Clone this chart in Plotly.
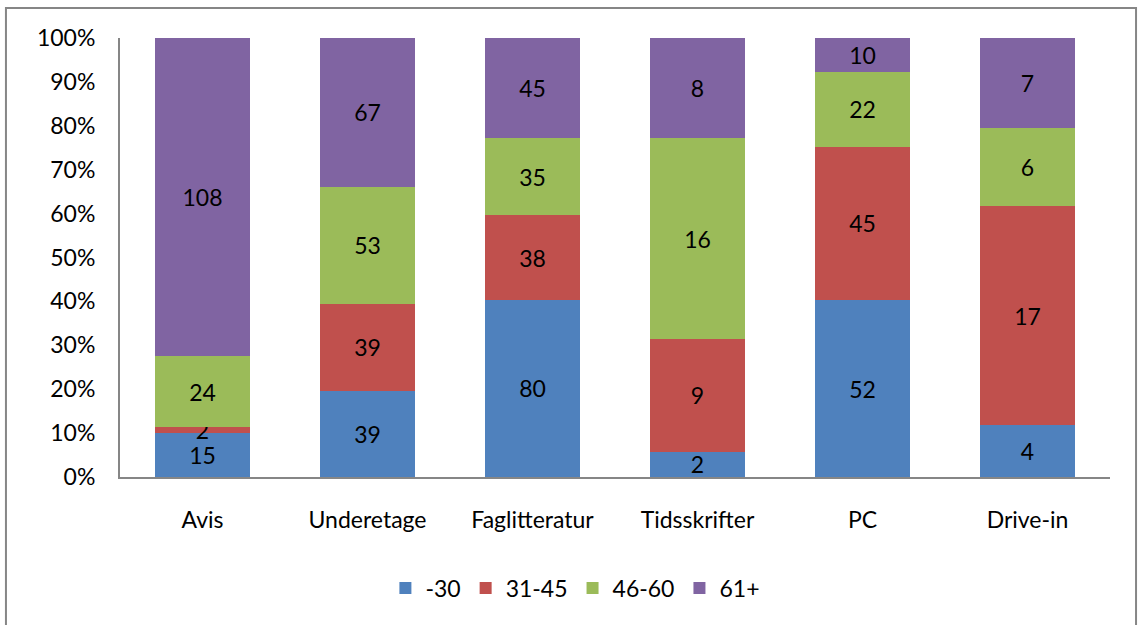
import plotly.graph_objects as go

categories = ["Avis", "Underetage", "Faglitteratur", "Tidsskrifter", "PC", "Drive-in"]
age_groups = ["-30", "31-45", "46-60", "61+"]
under_30 = [15, 39, 80, 2, 52, 4]
age_31_45 = [2, 39, 38, 9, 45, 17]
age_46_60 = [24, 53, 35, 16, 22, 6]
age_61_plus = [108, 67, 45, 8, 10, 7]
y_ticks = [0, 10, 20, 30, 40, 50, 60, 70, 80, 90, 100]

COLORS = ["#4F81BD", "#C0504D", "#9BBB59", "#8064A2"]
FONT = "Lato, 'Open Sans', sans-serif"
FS = 23
AXIS_GREY = "#868686"

fig = go.Figure()
for name, vals, col in zip(age_groups, [under_30, age_31_45, age_46_60, age_61_plus], COLORS):
    fig.add_trace(go.Bar(
        x=categories, y=vals, name=name,
        marker=dict(color=col, line=dict(width=0)),
        text=[str(v) for v in vals],
        textposition="inside", insidetextanchor="middle", textangle=0,
        textfont=dict(family=FONT, size=FS, color="#000000"),
        constraintext="none",
    ))

fig.update_layout(
    barmode="stack", barnorm="percent",
    bargap=0.424,
    width=1138, height=625,
    margin=dict(l=120, r=28, t=38, b=148, autoexpand=False),
    plot_bgcolor="white", paper_bgcolor="white",
    font=dict(family=FONT, size=FS, color="#000000"),
    uniformtext=dict(minsize=FS, mode="show"),
    showlegend=True,
    legend=dict(
        orientation="h", x=0.46, xanchor="center",
        y=-0.253, yanchor="middle",
        font=dict(family=FONT, size=FS, color="#000000"),
        traceorder="normal", itemwidth=30,
    ),
    xaxis=dict(
        showgrid=False, showline=True, linecolor=AXIS_GREY, linewidth=2,
        ticks="", tickfont=dict(size=FS), ticklabelstandoff=21, automargin=False,
    ),
    yaxis=dict(
        range=[0, 100], tickvals=y_ticks,
        ticktext=[f"{t}%" for t in y_ticks],
        showgrid=False, zeroline=False,
        showline=True, linecolor=AXIS_GREY, linewidth=2,
        ticks="", tickfont=dict(size=FS), ticklabelstandoff=18, automargin=False,
    ),
    shapes=[dict(
        type="rect", xref="paper", yref="paper",
        x0=-0.1152, x1=1.0263, y0=-0.36, y1=1.0683,
        line=dict(color=AXIS_GREY, width=2), layer="below",
    )],
)

fig.write_html("out.html", config={"displayModeBar": False},
               post_script="document.body.style.margin='0';")
